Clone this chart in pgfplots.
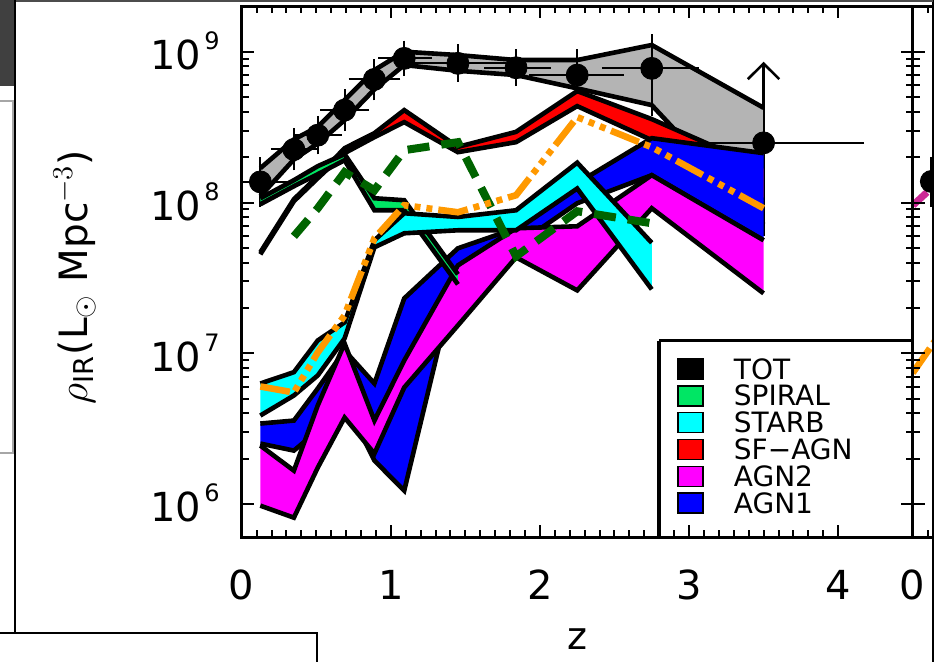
\documentclass[border=0pt]{standalone}
\usepackage{pgfplots}
\usepackage{pgfplotstable}
\pgfplotsset{compat=1.18}
\usepackage{fontspec}
\setmainfont{DejaVu Sans}
\usetikzlibrary{arrows.meta}

\definecolor{totgray}{RGB}{180,180,180}
\definecolor{spiral}{RGB}{0,230,100}
\definecolor{starb}{RGB}{0,255,255}
\definecolor{sfagn}{RGB}{255,0,0}
\definecolor{agntwo}{RGB}{255,0,255}
\definecolor{agnone}{RGB}{0,0,255}
\definecolor{dgreen}{RGB}{0,100,0}
\definecolor{iorange}{RGB}{255,153,0}
\definecolor{dmag}{RGB}{204,40,150}

% Bands: upper edge (increasing z) followed by lower edge (decreasing z)
\pgfplotstableread{
z y
0.125 1.690e8
0.35 2.622e8
0.51 3.179e8
0.69 4.783e8
0.89 7.570e8
1.09 1.002e9
1.45 9.52e8
1.84 8.822e8
2.25 8.822e8
2.75 1.110e9
3.5 4.253e8
3.5 7.142e7
2.75 4.432e8
2.25 5.722e8
1.84 7.013e8
1.45 7.488e8
1.09 8.171e8
0.89 5.634e8
0.69 3.523e8
0.51 2.466e8
0.35 1.931e8
0.125 1.101e8
}\totband

\pgfplotstableread{
z y xm xp ym yp
0.125 1.371e8 0.105 0.145 0.270e8 0.319e8
0.35 2.250e8 0.08 0.08 0.319e8 0.372e8
0.51 2.800e8 0.08 0.09 0.334e8 0.379e8
0.69 4.106e8 0.09 0.09 0.583e8 0.677e8
0.89 6.566e8 0.10 0.10 0.932e8 1.004e8
1.09 9.050e8 0.10 0.11 0.879e8 0.970e8
1.45 8.388e8 0.25 0.25 0.900e8 1.132e8
1.84 7.843e8 0.14 0.16 0.830e8 0.979e8
2.25 7.013e8 0.25 0.24 1.291e8 1.809e8
2.75 7.771e8 0.26 0.24 3.339e8 3.329e8
3.5 2.489e8 0.50 0.60 1.775e8 1.764e8
}\totpts

\pgfplotstableread{
z y
0.125 4.675e7
0.35 1.052e8
0.51 1.495e8
0.69 2.295e8
0.89 2.887e8
1.09 4.106e8
1.45 2.341e8
1.84 2.945e8
2.25 5.490e8
2.75 3.578e8
3.5 1.690e8
3.5 1.036e8
2.75 2.594e8
2.25 4.364e8
1.84 2.516e8
1.45 2.159e8
1.09 3.417e8
0.89 2.716e8
0.69 2.127e8
0.51 1.450e8
0.35 1.020e8
0.125 4.534e7
}\sfagnband

\pgfplotstableread{
z y
0.125 1.068e8
0.35 1.407e8
0.51 1.743e8
0.69 2.094e8
0.89 1.068e8
1.09 1.036e8
1.45 3.339e7
1.45 2.865e7
1.09 8.889e7
0.89 8.889e7
0.69 1.910e8
0.51 1.542e8
0.35 1.283e8
0.125 9.743e7
}\spiralband

\pgfplotstableread{
z y
0.125 6.300e6
0.35 7.488e6
0.51 1.216e7
0.69 1.602e7
0.89 5.617e7
1.09 8.489e7
1.45 8.022e7
1.84 8.889e7
2.25 1.839e8
2.75 5.406e7
2.75 2.654e7
2.25 1.239e8
1.84 6.546e7
1.45 6.546e7
1.09 6.252e7
0.89 5.047e7
0.69 1.254e7
0.51 7.120e6
0.35 5.244e6
0.125 3.861e6
}\starbband

\pgfplotstableread{
z y
0.125 3.416e6
0.35 3.576e6
0.51 5.837e6
0.69 1.044e7
0.89 6.300e6
1.09 2.313e7
1.45 4.970e7
1.84 6.749e7
2.25 1.344e8
2.75 2.674e8
3.5 2.127e8
3.5 5.617e7
2.75 1.519e8
2.25 9.893e7
1.84 5.204e7
1.45 3.660e7
1.09 1.226e6
0.89 1.940e6
0.69 4.859e6
0.51 3.069e6
0.35 2.260e6
0.125 2.515e6
}\agnoneband

\pgfplotstableread{
z y
0.125 2.440e6
0.35 1.664e6
0.51 4.500e6
0.69 1.162e7
0.89 3.576e6
1.09 8.957e6
1.45 3.831e7
1.84 6.749e7
2.25 6.959e7
2.75 1.519e8
3.5 5.617e7
3.5 2.497e7
2.75 9.165e7
2.25 2.614e7
1.84 4.330e7
1.45 1.530e7
1.09 5.928e6
0.89 2.159e6
0.69 3.745e6
0.51 1.742e6
0.35 8.110e5
0.125 9.743e5
}\agntwoband

\pgfplotstableread{
z y
0.125 6.018e6
0.35 5.488e6
0.51 1.012e7
0.69 1.783e7
0.89 5.791e7
1.09 9.596e7
1.45 8.620e7
1.84 1.118e8
2.25 3.689e8
2.75 2.330e8
3.5 9.165e7
}\orangeline

\pgfplotstableread{
z y
0.35 5.971e7
0.51 9.165e7
0.69 1.590e8
0.89 1.207e8
1.09 2.226e8
1.45 2.516e8
1.84 4.397e7
2.25 8.754e7
2.75 7.286e7
}\dgreenline

\pgfplotstableread{
z y ym yp
0.125 1.38e8 0.27e8 0.32e8
}\nextpts

\tikzset{
  bandedge/.style={black, line width=2.3pt},
  dashdotdot/.style={dash pattern=on 15pt off 3pt on 3pt off 3pt on 3pt off 3pt on 3pt off 3pt},
}
\newcommand{\expo}[1]{\kern1.5pt\raisebox{10pt}{\fontsize{12}{12}\selectfont #1}}

\begin{document}
\begin{tikzpicture}
\useasboundingbox (0pt,0pt) rectangle (470pt,331pt);

\begin{axis}[
  scale only axis, width=335.5pt, height=265.45pt,
  at={(120.85pt,62.3pt)}, anchor=south west,
  xmin=0, xmax=4.5, ymode=log, ymin=6e5, ymax=2e9,
  axis line style={line width=1.3pt},
  tick align=inside,
  major tick length=6pt, minor tick length=3.5pt,
  tick style={black, line width=1pt},
  xtick={0,1,2,3,4}, minor x tick num=9,
  xticklabels={0,1,2,3,4},
  ytick={1e6,1e7,1e8,1e9},
  yticklabels={10\expo{6},10\expo{7},10\expo{8},10\expo{9}},
  tick label style={font=\fontsize{20}{20}\selectfont},
  xticklabel style={anchor=base, yshift=-31pt, inner sep=0pt},
  yticklabel style={anchor=base east, inner sep=0pt, xshift=-10.8pt, yshift=-9pt},
  axis on top,
  xlabel={z},
  xlabel style={at={(axis description cs:0.5,0)}, anchor=base, yshift=-56.3pt,
    inner sep=0pt, font=\fontsize{19}{19}\selectfont},
  ylabel={$\rho_{\mathrm{IR}}$(L$_{\odot}$ Mpc$^{-3}$)},
  ylabel style={at={(axis description cs:-0.249,0.4905)}, anchor=center,
    inner sep=0pt, font=\fontsize{19.5}{19.5}\selectfont},
  legend image code/.code={\filldraw[#1, draw=black, line width=0.7pt] (0pt,-5pt) rectangle (12.5pt,5pt);},
  legend style={at={(rel axis cs:0.6483,0.3379)}, anchor=north west,
    draw=none, fill=none, inner sep=0pt, row sep=2.7pt, column sep=15.2pt,
    font=\fontsize{14}{14}\selectfont,
    nodes={inner sep=0pt, text height=10pt, text depth=0pt}},
  legend cell align=left,
]

% total: band, errors and points
\addplot[draw=none, fill=totgray, forget plot] table {\totband};
\addplot[bandedge, forget plot, skip coords between index={11}{100}] table {\totband};
\addplot[bandedge, forget plot, skip coords between index={0}{11}] table {\totband};
\addplot[black, only marks, mark=*, mark size=5.5pt, forget plot,
  error bars/.cd, x dir=both, x explicit, y dir=both, y explicit,
  error bar style={line width=1pt},
  error mark options={line width=1pt, mark size=5.5pt}]
  table[x=z, y=y, x error minus=xm, x error plus=xp, y error minus=ym, y error plus=yp] {\totpts};
\addplot[black, line width=1.2pt, forget plot,
  -{Straight Barb[length=7.8pt, width=15.7pt, line width=1.3pt]}]
  coordinates {(3.5,4.253e8) (3.5,8.6e8)};

% SF-AGN
\addplot[draw=none, fill=sfagn, forget plot] table {\sfagnband};
\addplot[bandedge, forget plot, skip coords between index={11}{100}] table {\sfagnband};
\addplot[bandedge, forget plot, skip coords between index={0}{11}] table {\sfagnband};
% AGN1
\addplot[draw=none, fill=agnone, forget plot] table {\agnoneband};
\addplot[bandedge, forget plot, skip coords between index={11}{100}] table {\agnoneband};
\addplot[bandedge, forget plot, skip coords between index={0}{11}] table {\agnoneband};
% AGN2
\addplot[draw=none, fill=agntwo, forget plot] table {\agntwoband};
\addplot[bandedge, forget plot, skip coords between index={11}{100}] table {\agntwoband};
\addplot[bandedge, forget plot, skip coords between index={0}{11}] table {\agntwoband};
% spiral
\addplot[draw=none, fill=spiral, forget plot] table {\spiralband};
\addplot[bandedge, forget plot, skip coords between index={7}{100}] table {\spiralband};
\addplot[bandedge, forget plot, skip coords between index={0}{7}] table {\spiralband};
% starburst
\addplot[draw=none, fill=starb, forget plot] table {\starbband};
\addplot[bandedge, forget plot, skip coords between index={10}{100}] table {\starbband};
\addplot[bandedge, forget plot, skip coords between index={0}{10}] table {\starbband};

% model curves
\addplot[dgreen, line width=4pt, dash pattern=on 11pt off 6pt, forget plot] table {\dgreenline};
\addplot[iorange, line width=3.3pt, dashdotdot, forget plot] table {\orangeline};

% legend frame
\fill[white] (rel axis cs:0.6219,0) rectangle (rel axis cs:1,0.3705);
\draw[line width=1.2pt] (rel axis cs:0.6219,0.3705) -- (rel axis cs:1,0.3705);
\draw[line width=2pt] (rel axis cs:0.6219,0) -- (rel axis cs:0.6219,0.3705);

\addlegendimage{fill=black}
\addlegendentry{TOT}
\addlegendimage{fill=spiral}
\addlegendentry{SPIRAL}
\addlegendimage{fill=starb}
\addlegendentry{STARB}
\addlegendimage{fill=sfagn}
\addlegendentry{SF−AGN}
\addlegendimage{fill=agntwo}
\addlegendentry{AGN2}
\addlegendimage{fill=agnone}
\addlegendentry{AGN1}
\end{axis}

% neighbouring panel
\begin{axis}[
  scale only axis, width=335.5pt, height=265.45pt,
  at={(456.35pt,62.3pt)}, anchor=south west,
  xmin=0, xmax=4.5, ymode=log, ymin=6e5, ymax=2e9,
  axis line style={line width=1.3pt},
  tick align=inside,
  major tick length=6pt, minor tick length=3.5pt,
  tick style={black, line width=1pt},
  xtick={0,1,2,3,4}, minor x tick num=9,
  xticklabels={0},
  ytick={1e6,1e7,1e8,1e9},
  yticklabels={},
  tick label style={font=\fontsize{20}{20}\selectfont},
  xticklabel style={anchor=base, yshift=-31pt, inner sep=0pt},
  axis on top,
]
\addplot[black, only marks, mark=*, mark size=5.5pt,
  error bars/.cd, y dir=both, y explicit,
  error bar style={line width=1pt},
  error mark options={line width=1pt, mark size=5.5pt}]
  table[x=z, y=y, y error minus=ym, y error plus=yp] {\nextpts};
\addplot[dmag, line width=3.5pt] coordinates {(0.002,9.6e7) (0.096,1.17e8)};
\addplot[iorange, line width=3.3pt, dashdotdot]
  coordinates {(0.0,7.4e6) (0.16,1.25e7)};
\end{axis}

% surrounding frames
\fill[white] (466.5pt,-5pt) rectangle (475pt,335pt);
\draw[line width=0.9pt] (466.5pt,-5pt) -- (466.5pt,335pt);
\fill[black!70] (7.5pt,330pt) rectangle (466.5pt,335pt);
\fill[black!75] (-5pt,288pt) rectangle (7pt,335pt);
\draw[black!35, line width=0.8pt] (-5pt,280.5pt) -- (6.5pt,280.5pt) -- (6.5pt,104.5pt) -- (-5pt,104.5pt);
\draw[line width=0.9pt] (7.5pt,335pt) -- (7.5pt,14.5pt);
\draw[line width=0.9pt] (-5pt,14.5pt) -- (158.5pt,14.5pt) -- (158.5pt,-5pt);
\end{tikzpicture}
\end{document}
